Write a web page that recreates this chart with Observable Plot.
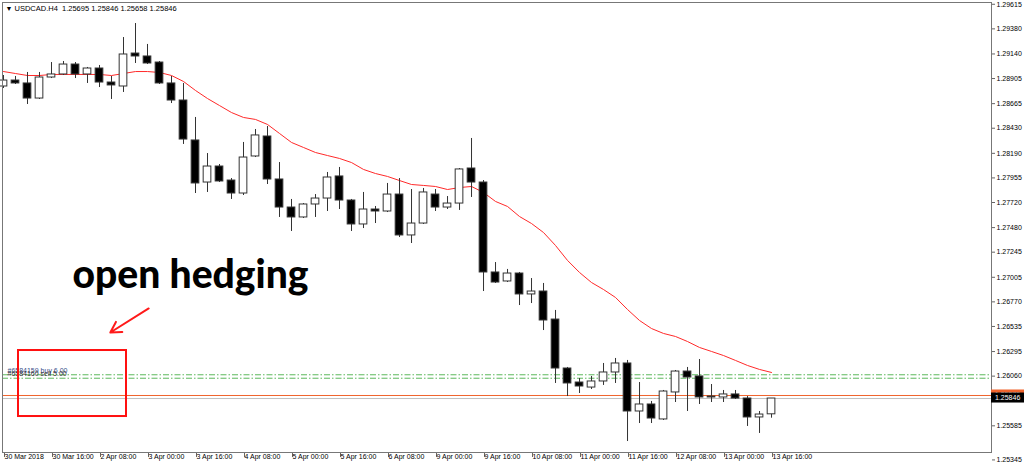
<!DOCTYPE html>
<html><head><meta charset="utf-8">
<script src="https://cdn.jsdelivr.net/npm/d3@7"></script>
<script src="https://cdn.jsdelivr.net/npm/@observablehq/plot@0.6"></script>
<style>body{margin:0;background:#fff;overflow:hidden}</style>
</head><body><div id="chart"></div>
<script>
const opens = [1.28829,1.28886,1.28858,1.28714,1.28915,1.28944,1.29039,1.28944,1.29001,1.28867,
1.28829,1.29144,1.29116,1.29058,1.28858,1.28695,1.28313,1.27911,1.28064,1.27930,
1.27806,1.28160,1.28351,1.27940,1.27672,1.27577,1.27701,1.27758,1.27969,1.27739,
1.27510,1.27653,1.27634,1.27796,1.27405,1.27519,1.27796,1.27672,1.27710,1.28045,
1.27911,1.27051,1.26965,1.27041,1.26841,1.26869,1.26601,1.26133,1.25999,1.25951,
1.26009,1.26095,1.26181,1.25722,1.25789,1.25646,1.25904,1.26104,1.26057,1.25865,
1.25856,1.25885,1.25846,1.25665,1.25695];
const highs = [1.28934,1.28925,1.28963,1.28963,1.29058,1.29068,1.29058,1.29011,1.29030,1.28925,
1.29297,1.29431,1.29231,1.29068,1.28925,1.28858,1.28533,1.28188,1.28083,1.27949,
1.28294,1.28418,1.28447,1.28102,1.27749,1.27710,1.27796,1.28007,1.28055,1.27749,
1.27816,1.27682,1.27902,1.27949,1.27844,1.27854,1.27844,1.27777,1.28045,1.28332,
1.27930,1.27146,1.27080,1.27051,1.26993,1.26946,1.26688,1.26143,1.26037,1.26057,
1.26181,1.26229,1.26210,1.25999,1.25818,1.25923,1.26114,1.26143,1.26219,1.25980,
1.25923,1.25923,1.25865,1.25722,1.25846];
const lows = [1.28810,1.28848,1.28657,1.28705,1.28905,1.28934,1.28905,1.28858,1.28819,1.28705,
1.28772,1.29049,1.29039,1.28848,1.28666,1.28275,1.27806,1.27816,1.27911,1.27749,
1.27787,1.28150,1.27892,1.27577,1.27443,1.27567,1.27577,1.27634,1.27653,1.27443,
1.27471,1.27519,1.27624,1.27385,1.27328,1.27510,1.27634,1.27653,1.27644,1.27768,
1.26869,1.26946,1.26955,1.26735,1.26754,1.26496,1.25990,1.25865,1.25894,1.25932,
1.25971,1.25990,1.25435,1.25607,1.25607,1.25636,1.25808,1.25722,1.25789,1.25808,
1.25808,1.25837,1.25579,1.25512,1.25658];
const closes = [1.28886,1.28858,1.28714,1.28915,1.28944,1.29039,1.28944,1.29001,1.28867,1.28839,
1.29135,1.29116,1.29049,1.28858,1.28695,1.28322,1.27902,1.28064,1.27921,1.27806,
1.28150,1.28361,1.27940,1.27672,1.27577,1.27701,1.27758,1.27959,1.27739,1.27510,
1.27653,1.27634,1.27796,1.27405,1.27519,1.27816,1.27672,1.27710,1.28036,1.27911,
1.27051,1.26955,1.27041,1.26841,1.26869,1.26592,1.26133,1.25990,1.25961,1.26009,
1.26095,1.26181,1.25722,1.25789,1.25655,1.25913,1.26104,1.26047,1.25856,1.25856,
1.25885,1.25846,1.25665,1.25693,1.25846];
const movingAverage = [1.28972,1.28953,1.28934,1.28934,1.28944,1.28944,1.28944,1.28944,1.28944,1.28934,
1.28953,1.28972,1.28972,1.28963,1.28934,1.28877,1.28791,1.28714,1.28647,1.28580,
1.28533,1.28514,1.28466,1.28380,1.28294,1.28246,1.28198,1.28169,1.28141,1.28102,
1.28036,1.27997,1.27969,1.27930,1.27892,1.27883,1.27873,1.27844,1.27863,1.27873,
1.27816,1.27730,1.27682,1.27586,1.27519,1.27433,1.27309,1.27166,1.27051,1.26955,
1.26888,1.26812,1.26697,1.26592,1.26515,1.26468,1.26439,1.26391,1.26334,1.26296,
1.26257,1.26210,1.26162,1.26124,1.26095];

const xTickBars = [0,4,8,12,16,20,24,28,32,36,40,44,48,52,56,60,64];
const xTickLabels = ["30 Mar 2018","30 Mar 16:00","2 Apr 08:00","3 Apr 00:00","3 Apr 16:00","4 Apr 08:00","5 Apr 00:00","5 Apr 16:00","6 Apr 08:00","9 Apr 00:00","9 Apr 16:00","10 Apr 08:00","11 Apr 00:00","11 Apr 16:00","12 Apr 08:00","13 Apr 00:00","13 Apr 16:00"];
const yTickValues = [1.29615,1.29380,1.29140,1.28905,1.28665,1.28430,1.28190,1.27955,1.27720,1.27480,1.27245,1.27005,1.26770,1.26535,1.26295,1.26060,1.25585];
const yBottomTick = [1.25345];

const orderPrices = [1.26073, 1.26040];
const orderLabels = ["#6584159 buy 6.00", "#6584160 sell 5.00"];
const bidPrice = 1.25846;
const askPrice = 1.25875;
const titleText = "USDCAD.H4  1.25695 1.25846 1.25658 1.25846";

// annotation anchors in (bar index, price)
const hedgeLabel = [{bar: 5.75, price: 1.26900, text: "open hedging"}];
const hedgeArrow = [{bar1: 12.1, price1: 1.26707, bar2: 8.9, price2: 1.26477}];
const hedgeBox = [{bar1: 1.25, bar2: 10.25, price1: 1.25674, price2: 1.26305}];

const bars = opens.map((o, i) => ({i, open: o, high: highs[i], low: lows[i], close: closes[i], ma: movingAverage[i]}));
const orders = orderPrices.map((p, k) => ({price: p, label: orderLabels[k]}));

const font = "Liberation Sans, Arial, sans-serif";

const chart = Plot.plot({
  width: 1024,
  height: 468,
  marginLeft: 2,
  marginRight: 33,
  marginTop: 2,
  marginBottom: 16,
  style: {background: "#fff", fontFamily: font},
  x: {type: "linear", domain: [-1/12, 82.33]},
  y: {domain: [1.25330, 1.29632]},
  color: {type: "identity"},
  marks: [
    Plot.ruleY(orders, {y: "price", stroke: "#5cb85c", strokeWidth: 1, strokeDasharray: "6,2,1.5,2"}),
    Plot.ruleY([bidPrice], {stroke: "#c0c0c0", strokeWidth: 1}),
    Plot.ruleY([askPrice], {stroke: "#f0642d", strokeWidth: 1}),
    Plot.text(orders, {y: "price", text: "label", frameAnchor: "left", dx: 5, dy: -4, textAnchor: "start", fontSize: 7, fill: (d, k) => k === 0 ? "#3a4f8a" : "#333"}),
    Plot.line(bars, {x: "i", y: "ma", stroke: "#ff2a2a", strokeWidth: 1}),
    Plot.ruleX(bars, {x: "i", y1: "low", y2: "high", stroke: "#333", strokeWidth: 1}),
    Plot.rect(bars, {x1: d => d.i - 0.32, x2: d => d.i + 0.32, y1: "open", y2: "close",
      fill: d => d.close >= d.open ? "#fff" : "#000", stroke: "#333", strokeWidth: 1}),
    Plot.rect(hedgeBox, {x1: "bar1", x2: "bar2", y1: "price1", y2: "price2", fill: "none", stroke: "#ff1010", strokeWidth: 2}),
    Plot.arrow(hedgeArrow, {x1: "bar1", y1: "price1", x2: "bar2", y2: "price2", stroke: "#ff1a1a", strokeWidth: 2, headLength: 9}),
    Plot.text(hedgeLabel, {x: "bar", y: "price", text: "text", textAnchor: "start", lineAnchor: "bottom", fontSize: 39, fontWeight: 900, fontFamily: "Lato, sans-serif", fill: "#000"}),
    Plot.text(["▼"], {frameAnchor: "top-left", dx: 3, dy: 3.5, fontSize: 7, fill: "#000"}),
    Plot.text([titleText], {frameAnchor: "top-left", dx: 12, dy: 3, fontSize: 7.5, fill: "#000"}),
    Plot.axisY({anchor: "right", ticks: yTickValues, tickFormat: d => d.toFixed(5), tickSize: 3, tickPadding: 2, fontSize: 7, stroke: "#666"}),
    Plot.axisY({anchor: "right", ticks: yBottomTick, tickFormat: d => d.toFixed(5), tickSize: 3, tickPadding: 2, fontSize: 7, dy: 9, stroke: "#666"}),
    Plot.axisX({ticks: xTickBars, tickFormat: d => xTickLabels[xTickBars.indexOf(d)], tickSize: 5, tickPadding: -3, textAnchor: "start", dx: 1, fontSize: 7, stroke: "#666"}),
    Plot.frame({stroke: "#777", strokeWidth: 1})
  ]
});

document.getElementById("chart").appendChild(chart);

// price tags on the right axis, positioned with the chart's own y scale
const ys = chart.scale("y");
const svg = d3.select(chart);
function tag(price, bg, fg, label) {
  const yy = ys.apply(price);
  svg.append("rect").attr("x", 991).attr("y", yy - 5.5).attr("width", 33).attr("height", 10).attr("fill", bg);
  svg.append("text").attr("x", 995).attr("y", yy - 0.5).attr("dy", "0.35em").attr("fill", fg)
    .attr("text-anchor", "start").attr("font-size", 7).attr("font-family", font).text(label);
}
tag(askPrice, "#f0642d", "#fff", askPrice.toFixed(5));
tag(bidPrice, "#000", "#fff", bidPrice.toFixed(5));
</script>
</body></html>
